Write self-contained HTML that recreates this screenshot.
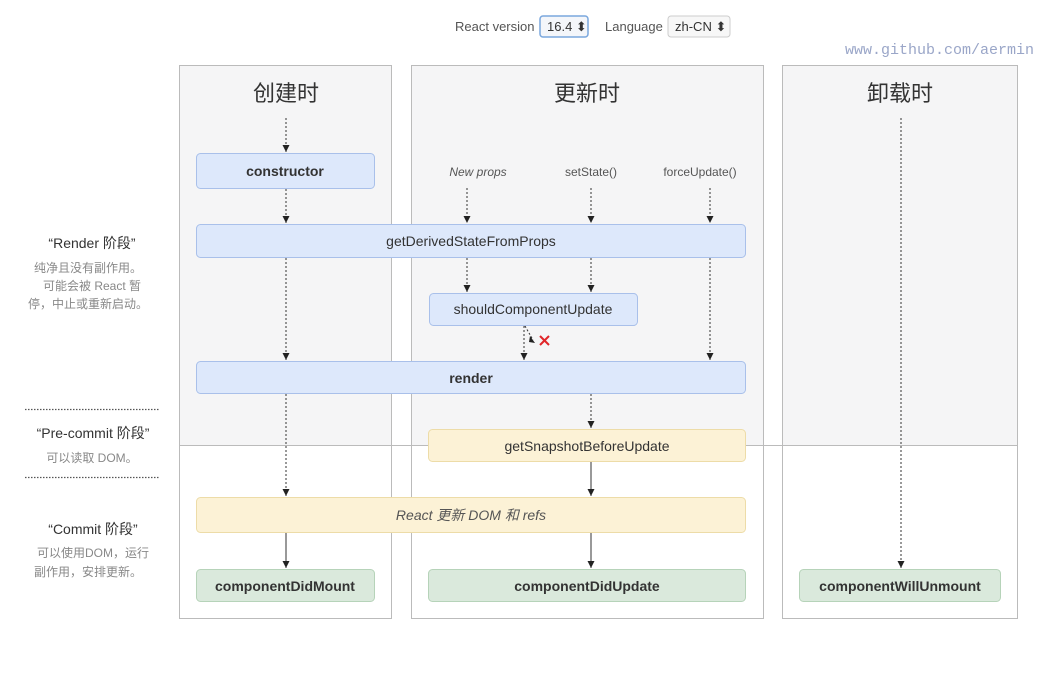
<!DOCTYPE html>
<html><head><meta charset="utf-8"><style>
html,body{margin:0;padding:0;background:#fff;}
svg{display:block}
text{font-family:"Liberation Sans","Noto Sans CJK SC",sans-serif;}
</style></head><body>
<svg width="1063" height="674" viewBox="0 0 1063 674" xmlns="http://www.w3.org/2000/svg">
<defs>
<marker id="a" markerWidth="8" markerHeight="8" refX="7" refY="4" orient="auto" markerUnits="userSpaceOnUse">
<path d="M0,0.5 L7,4 L0,7.5 z" fill="#222"/></marker>
</defs>
<text x="455" y="31" font-size="13" fill="#555">React version</text>
<rect x="540" y="16" width="48" height="21" rx="3" fill="#f4f6fa" stroke="#7aa7dd" stroke-width="1.5"/>
<text x="547" y="31" font-size="13" fill="#333">16.4 ⬍</text>
<text x="605" y="31" font-size="13" fill="#555">Language</text>
<rect x="668" y="16" width="62" height="21" rx="3" fill="#f7f7f7" stroke="#ccc"/>
<text x="675" y="31" font-size="13" fill="#333">zh-CN ⬍</text>
<text x="845" y="54" font-size="15" fill="#9aa6c8" style="font-family:'Liberation Mono',monospace">www.github.com/aermin</text>

<rect x="179.5" y="65.5" width="212" height="553" fill="#fff" stroke="#bbb"/>
<rect x="180" y="66" width="211" height="379" fill="#f5f5f6"/>
<rect x="411.5" y="65.5" width="352" height="553" fill="#fff" stroke="#bbb"/>
<rect x="412" y="66" width="351" height="379" fill="#f5f5f6"/>
<rect x="782.5" y="65.5" width="235" height="553" fill="#fff" stroke="#bbb"/>
<rect x="783" y="66" width="234" height="379" fill="#f5f5f6"/>
<line x1="179" y1="445.5" x2="1017" y2="445.5" stroke="#bbb"/>

<text x="286" y="101" font-size="22" fill="#333" text-anchor="middle">创建时</text>
<text x="587" y="101" font-size="22" fill="#333" text-anchor="middle">更新时</text>
<text x="900" y="101" font-size="22" fill="#333" text-anchor="middle">卸载时</text>

<g stroke="#333" stroke-width="1" fill="none">
<g stroke-dasharray="2,2">
<line x1="286" y1="118" x2="286" y2="152" marker-end="url(#a)"/>
<line x1="286" y1="189" x2="286" y2="223" marker-end="url(#a)"/>
<line x1="286" y1="258" x2="286" y2="360" marker-end="url(#a)"/>
<line x1="286" y1="394" x2="286" y2="496" marker-end="url(#a)"/>
<line x1="467" y1="188" x2="467" y2="223" marker-end="url(#a)"/>
<line x1="591" y1="188" x2="591" y2="223" marker-end="url(#a)"/>
<line x1="710" y1="188" x2="710" y2="223" marker-end="url(#a)"/>
<line x1="467" y1="258" x2="467" y2="292" marker-end="url(#a)"/>
<line x1="591" y1="258" x2="591" y2="292" marker-end="url(#a)"/>
<line x1="710" y1="258" x2="710" y2="360" marker-end="url(#a)"/>
<line x1="524" y1="326" x2="524" y2="360" marker-end="url(#a)"/>
<line x1="525" y1="326" x2="533" y2="340"/>
<line x1="591" y1="394" x2="591" y2="428" marker-end="url(#a)"/>
<line x1="901" y1="118" x2="901" y2="568" marker-end="url(#a)"/>
</g>
<line x1="286" y1="533" x2="286" y2="568" marker-end="url(#a)"/>
<line x1="591" y1="462" x2="591" y2="496" marker-end="url(#a)"/>
<line x1="591" y1="533" x2="591" y2="568" marker-end="url(#a)"/>
</g>
<path d="M530,336 L535,343 L529,342 z" fill="#222"/>
<g stroke="#e0262a" stroke-width="2"><line x1="540" y1="336" x2="549" y2="345"/><line x1="549" y1="336" x2="540" y2="345"/></g>

<g stroke-width="1">
<rect x="196.5" y="153.5" width="178" height="35" rx="4" fill="#dde8fb" stroke="#a9c0ea"/>
<rect x="196.5" y="224.5" width="549" height="33" rx="4" fill="#dde8fb" stroke="#a9c0ea"/>
<rect x="429.5" y="293.5" width="208" height="32" rx="4" fill="#dde8fb" stroke="#a9c0ea"/>
<rect x="196.5" y="361.5" width="549" height="32" rx="4" fill="#dde8fb" stroke="#a9c0ea"/>
<rect x="428.5" y="429.5" width="317" height="32" rx="4" fill="#fcf2d6" stroke="#eddca8"/>
<rect x="196.5" y="497.5" width="549" height="35" rx="4" fill="#fcf2d6" stroke="#eddca8"/>
<rect x="196.5" y="569.5" width="178" height="32" rx="4" fill="#dae9dc" stroke="#b6d3b9"/>
<rect x="428.5" y="569.5" width="317" height="32" rx="4" fill="#dae9dc" stroke="#b6d3b9"/>
<rect x="799.5" y="569.5" width="201" height="32" rx="4" fill="#dae9dc" stroke="#b6d3b9"/>
</g>
<g font-size="14" fill="#333" text-anchor="middle">
<text x="285" y="176" font-weight="bold">constructor</text>
<text x="471" y="246">getDerivedStateFromProps</text>
<text x="533" y="314">shouldComponentUpdate</text>
<text x="471" y="383" font-weight="bold">render</text>
<text x="587" y="451">getSnapshotBeforeUpdate</text>
<text x="471" y="520" font-style="italic" fill="#555">React 更新 DOM 和 refs</text>
<text x="285" y="591" font-weight="bold">componentDidMount</text>
<text x="587" y="591" font-weight="bold">componentDidUpdate</text>
<text x="900" y="591" font-weight="bold">componentWillUnmount</text>
</g>
<g font-size="12" fill="#555" text-anchor="middle">
<text x="478" y="176" font-style="italic">New props</text>
<text x="591" y="176">setState()</text>
<text x="700" y="176">forceUpdate()</text>
</g>

<g text-anchor="middle">
<text x="92" y="248" font-size="14" fill="#333">“Render 阶段”</text>
<text x="88" y="272" font-size="12" fill="#888">纯净且没有副作用。</text>
<text x="92" y="290" font-size="12" fill="#888">可能会被 React 暂</text>
<text x="88" y="308" font-size="12" fill="#888">停，中止或重新启动。</text>
<text x="93" y="438" font-size="14" fill="#333">“Pre-commit 阶段”</text>
<text x="92" y="462" font-size="12" fill="#888">可以读取 DOM。</text>
<text x="93" y="534" font-size="14" fill="#333">“Commit 阶段”</text>
<text x="93" y="557" font-size="12" fill="#888">可以使用DOM，运行</text>
<text x="88" y="576" font-size="12" fill="#888">副作用，安排更新。</text>
</g>
<g stroke="#555" stroke-width="1.2" stroke-dasharray="1.5,1.5">
<line x1="25" y1="409.5" x2="160" y2="409.5"/>
<line x1="25" y1="477.5" x2="160" y2="477.5"/>
</g>
</svg>
</body></html>
